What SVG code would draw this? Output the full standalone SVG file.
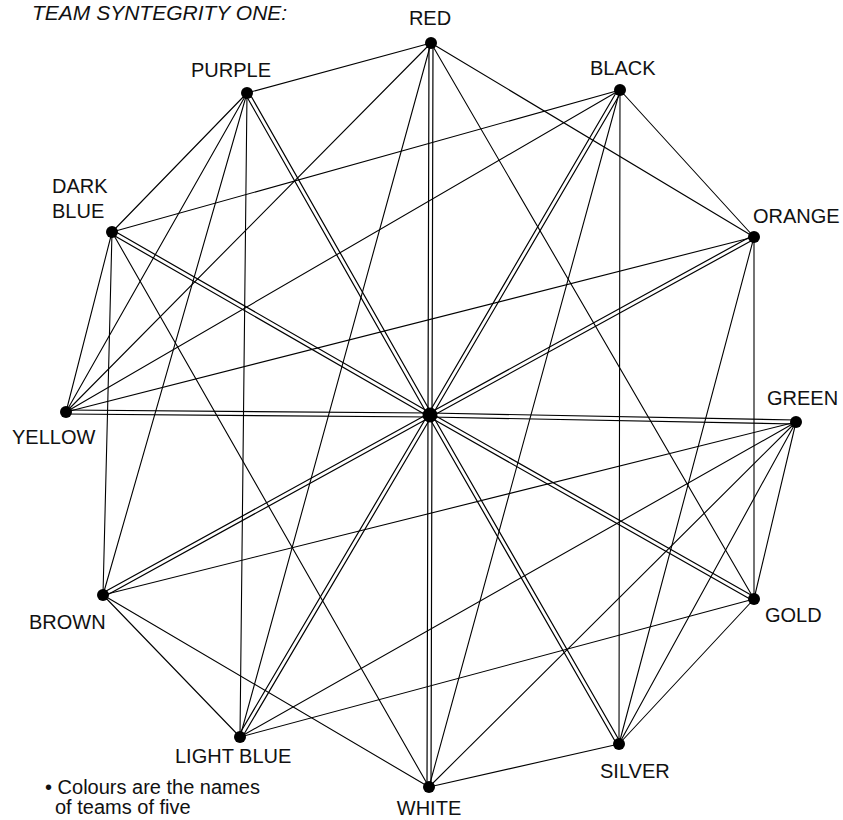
<svg xmlns="http://www.w3.org/2000/svg" width="843" height="820" viewBox="0 0 843 820">
<style>
  .bg { fill: #ffffff; }
  .edge { stroke: #000; stroke-width: 1.1; fill: none; stroke-linecap: round; }
  .spoke { stroke: #000; stroke-width: 1.2; fill: none; }
  .dot { fill: #000; }
  .lbl { font-family: "Liberation Sans", Arial, sans-serif; font-size: 20px; fill: #111; }
  .title { font-family: "Liberation Sans", Arial, sans-serif; font-size: 21px; font-style: italic; fill: #111; }
</style>
<rect class="bg" x="0" y="0" width="843" height="820"/>

<g id="connectors">
  <!-- icosahedron edges between teams -->
  <line class="edge" x1="66" y1="412" x2="112" y2="232"/>
  <line class="edge" x1="66" y1="412" x2="247" y2="93"/>
  <line class="edge" x1="66" y1="412" x2="431" y2="43"/>
  <line class="edge" x1="66" y1="412" x2="620" y2="90"/>
  <line class="edge" x1="66" y1="412" x2="754" y2="237"/>
  <line class="edge" x1="431" y1="43" x2="247" y2="93"/>
  <line class="edge" x1="431" y1="43" x2="240" y2="737"/>
  <line class="edge" x1="431" y1="43" x2="754" y2="599"/>
  <line class="edge" x1="431" y1="43" x2="754" y2="237"/>
  <line class="edge" x1="247" y1="93" x2="112" y2="232"/>
  <line class="edge" x1="247" y1="93" x2="103" y2="595"/>
  <line class="edge" x1="247" y1="93" x2="240" y2="737"/>
  <line class="edge" x1="112" y1="232" x2="620" y2="90"/>
  <line class="edge" x1="112" y1="232" x2="103" y2="595"/>
  <line class="edge" x1="112" y1="232" x2="429" y2="787"/>
  <line class="edge" x1="754" y1="237" x2="620" y2="90"/>
  <line class="edge" x1="754" y1="237" x2="619" y2="744"/>
  <line class="edge" x1="754" y1="237" x2="754" y2="599"/>
  <line class="edge" x1="103" y1="595" x2="796" y2="422"/>
  <line class="edge" x1="103" y1="595" x2="240" y2="737"/>
  <line class="edge" x1="103" y1="595" x2="429" y2="787"/>
  <line class="edge" x1="620" y1="90" x2="429" y2="787"/>
  <line class="edge" x1="620" y1="90" x2="619" y2="744"/>
  <line class="edge" x1="240" y1="737" x2="754" y2="599"/>
  <line class="edge" x1="240" y1="737" x2="796" y2="422"/>
  <line class="edge" x1="429" y1="787" x2="619" y2="744"/>
  <line class="edge" x1="429" y1="787" x2="796" y2="422"/>
  <line class="edge" x1="619" y1="744" x2="754" y2="599"/>
  <line class="edge" x1="619" y1="744" x2="796" y2="422"/>
  <line class="edge" x1="754" y1="599" x2="796" y2="422"/>

  <!-- double spokes from the centre -->
  <path class="spoke" d="M432,415 L433,43 M428,415 L429,43"/>
  <path class="spoke" d="M431.73,416.01 L621.73,91.01 M428.27,413.99 L618.27,88.99"/>
  <path class="spoke" d="M430.96,416.75 L754.96,238.75 M429.04,413.25 L753.04,235.25"/>
  <path class="spoke" d="M429.96,417 L795.96,424 M430.04,413 L796.04,420"/>
  <path class="spoke" d="M429.01,416.74 L753.01,600.74 M430.99,413.26 L754.99,597.26"/>
  <path class="spoke" d="M428.27,416 L617.27,745 M431.73,414 L620.73,743"/>
  <path class="spoke" d="M428,415 L427,787 M432,415 L431,787"/>
  <path class="spoke" d="M428.28,413.98 L238.28,735.98 M431.72,416.02 L241.72,738.02"/>
  <path class="spoke" d="M429.04,413.25 L102.04,593.25 M430.96,416.75 L103.96,596.75"/>
  <path class="spoke" d="M430.02,413 L66.02,410 M429.98,417 L65.98,414"/>
  <path class="spoke" d="M431,413.27 L113,230.27 M429,416.73 L111,233.73"/>
  <path class="spoke" d="M431.74,414.01 L248.74,92.01 M428.26,415.99 L245.26,93.99"/>
</g>

<g id="title">
  <text class="title" x="32" y="20">TEAM SYNTEGRITY ONE:</text>
</g>

<g id="centre">
  <circle class="dot" cx="430" cy="415" r="7.5"/>
</g>
<g id="red">
  <circle class="dot" cx="431" cy="43" r="6"/>
  <text class="lbl" x="430" y="25" text-anchor="middle">RED</text>
</g>
<g id="black">
  <circle class="dot" cx="620" cy="90" r="6"/>
  <text class="lbl" x="590" y="75">BLACK</text>
</g>
<g id="orange">
  <circle class="dot" cx="754" cy="237" r="6"/>
  <text class="lbl" x="753" y="223">ORANGE</text>
</g>
<g id="green">
  <circle class="dot" cx="796" cy="422" r="6"/>
  <text class="lbl" x="767" y="405">GREEN</text>
</g>
<g id="gold">
  <circle class="dot" cx="754" cy="599" r="6"/>
  <text class="lbl" x="765" y="622">GOLD</text>
</g>
<g id="silver">
  <circle class="dot" cx="619" cy="744" r="6"/>
  <text class="lbl" x="600" y="778">SILVER</text>
</g>
<g id="white">
  <circle class="dot" cx="429" cy="787" r="6"/>
  <text class="lbl" x="429" y="815" text-anchor="middle">WHITE</text>
</g>
<g id="light-blue">
  <circle class="dot" cx="240" cy="737" r="6"/>
  <text class="lbl" x="175" y="763">LIGHT BLUE</text>
</g>
<g id="brown">
  <circle class="dot" cx="103" cy="595" r="6"/>
  <text class="lbl" x="29" y="629">BROWN</text>
</g>
<g id="yellow">
  <circle class="dot" cx="66" cy="412" r="6"/>
  <text class="lbl" x="12" y="444">YELLOW</text>
</g>
<g id="dark-blue">
  <circle class="dot" cx="112" cy="232" r="6"/>
  <text class="lbl" x="52" y="193">DARK</text>
  <text class="lbl" x="52" y="218">BLUE</text>
</g>
<g id="purple">
  <circle class="dot" cx="247" cy="93" r="6"/>
  <text class="lbl" x="231" y="77" text-anchor="middle">PURPLE</text>
</g>

<g id="note">
  <text class="lbl" x="45" y="794">• Colours are the names</text>
  <text class="lbl" x="55" y="814">of teams of five</text>
</g>
</svg>
